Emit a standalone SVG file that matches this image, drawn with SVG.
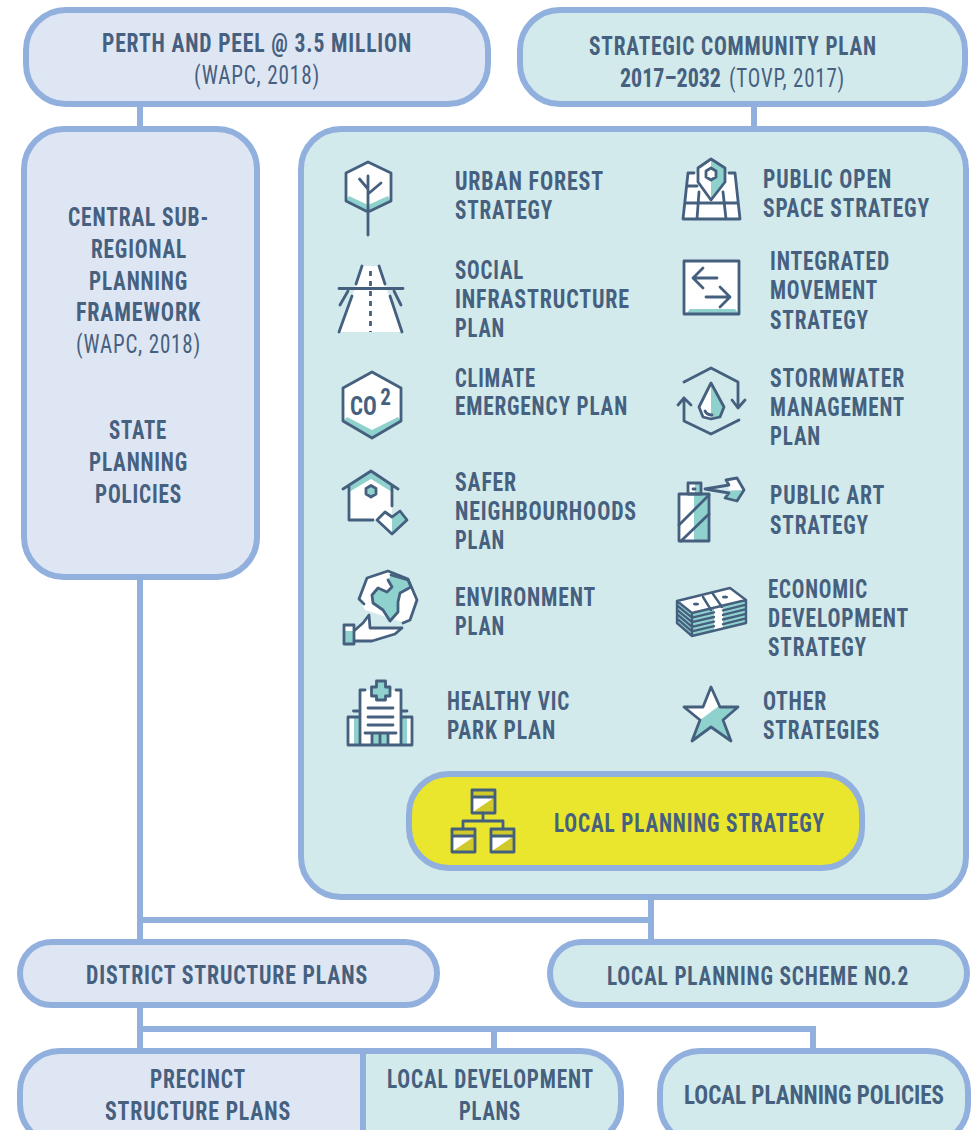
<svg xmlns="http://www.w3.org/2000/svg" xmlns:xlink="http://www.w3.org/1999/xlink" width="973" height="1130" viewBox="0 0 973 1130">
<style>
.b{stroke:#92b0de;stroke-width:6}
.blue{fill:#dfe6f3}.teal{fill:#d2eaeb}
.c{fill:none;stroke:#92b0de;stroke-width:6}
text{font-family:"Liberation Sans Narrow","Roboto Condensed","Liberation Sans",sans-serif;fill:#46607f;font-size:26px;font-weight:700;letter-spacing:1px}
text.n{font-weight:400}
.i{fill:none;stroke:#45607f;stroke-width:2.8;stroke-linejoin:round;stroke-linecap:round}
.w{fill:#fff;stroke:none}.t{fill:#8fd2cd;stroke:none}.o{fill:#cfca2a;stroke:none}
</style>
<defs>
<g id="org"><rect class="w" width="23" height="23"/><path class="o" d="M0 0H23V7H0ZM1 22L23 7V23H1Z"/><path class="i" d="M0 0H23V23H0ZM0 7H23"/></g>
</defs>
<rect width="973" height="1130" fill="#fff"/>
<g id="connectors">
<path class="c" d="M140 104V129M754 104V129M140 577V942M140 920H651M651 897V942M140 1005V1051M140 1029H813V1051M494 1029V1051"/>
</g>
<g id="perth"><rect class="b blue" x="26" y="10" width="462" height="94" rx="40"/>
<text x="102" y="52" textLength="310" lengthAdjust="spacingAndGlyphs">PERTH AND PEEL @ 3.5 MILLION</text>
<text class="n" x="194" y="84" textLength="126" lengthAdjust="spacingAndGlyphs">(WAPC, 2018)</text></g>
<g id="community"><rect class="b teal" x="520" y="10" width="445" height="94" rx="40"/>
<text x="589" y="55" textLength="288" lengthAdjust="spacingAndGlyphs">STRATEGIC COMMUNITY PLAN</text>
<text x="620" y="87" style="letter-spacing:0" textLength="101" lengthAdjust="spacingAndGlyphs">2017–2032</text>
<text class="n" x="729" y="87" textLength="116" lengthAdjust="spacingAndGlyphs">(TOVP, 2017)</text></g>
<g id="central"><rect class="b blue" x="24" y="129" width="233" height="448" rx="40"/>
<text x="68" y="226" textLength="141" lengthAdjust="spacingAndGlyphs">CENTRAL SUB-</text>
<text x="91" y="258" textLength="96" lengthAdjust="spacingAndGlyphs">REGIONAL</text>
<text x="89" y="290" textLength="99" lengthAdjust="spacingAndGlyphs">PLANNING</text>
<text x="76" y="321" textLength="125" lengthAdjust="spacingAndGlyphs">FRAMEWORK</text>
<text class="n" x="76" y="353" textLength="125" lengthAdjust="spacingAndGlyphs">(WAPC, 2018)</text>
<text x="109" y="439" textLength="58" lengthAdjust="spacingAndGlyphs">STATE</text>
<text x="89" y="471" textLength="99" lengthAdjust="spacingAndGlyphs">PLANNING</text>
<text x="95" y="503" textLength="87" lengthAdjust="spacingAndGlyphs">POLICIES</text></g>
<g id="strategies-panel"><rect class="b teal" x="301" y="129" width="665" height="768" rx="40"/></g>
<g id="urban-forest">
<path class="w" d="M368 162L391 173V201L368 212L346 201V173Z"/><path class="t" d="M349 196L368 205L388 196L391 201L368 212L346 201Z"/>
<path class="i" d="M368 162L391 173V201L368 212L346 201V173ZM368 176V235M359.500 179L368 189M381 183L368 194"/>
<text x="455" y="190" textLength="149" lengthAdjust="spacingAndGlyphs">URBAN FOREST</text>
<text x="455" y="219" textLength="98" lengthAdjust="spacingAndGlyphs">STRATEGY</text></g>
<g id="social">
<path class="w" d="M363 266H378L402 332H339Z"/>
<path class="i" d="M362 266L356 284M379 266L385 284M339 288.500H403M348 291L340 305M352 296L339 332M394 291L401 305M390 296L402 332"/>
<path class="i" stroke-dasharray="5 5" style="stroke-linecap:butt" d="M370.500 271V332"/>
<text x="455" y="279" textLength="69" lengthAdjust="spacingAndGlyphs">SOCIAL</text>
<text x="455" y="308" textLength="175" lengthAdjust="spacingAndGlyphs">INFRASTRUCTURE</text>
<text x="455" y="337" textLength="50" lengthAdjust="spacingAndGlyphs">PLAN</text></g>
<g id="climate">
<path class="w" d="M372 372L401 388V421L372 438L343 421V388Z"/><path class="t" d="M347 417L372 430L398 417L401 421L372 438L343 421Z"/>
<path class="i" d="M372 372L401 388V421L372 438L343 421V388Z"/>
<text x="350" y="415" style="letter-spacing:0" textLength="41" lengthAdjust="spacingAndGlyphs">CO<tspan dx="4" dy="-10" style="font-size:24px">2</tspan></text>
<text x="455" y="387" textLength="81" lengthAdjust="spacingAndGlyphs">CLIMATE</text>
<text x="455" y="415" textLength="173" lengthAdjust="spacingAndGlyphs">EMERGENCY PLAN</text></g>
<g id="safer">
<path class="w" d="M349 485L371 471L392 485V520H349Z"/><path class="t" d="M349 485L371 471L392 485V492L371 479L349 492Z"/>
<path class="i" d="M343 489L371 471L398 489M349 485V520H373M392 485V506"/>
<path class="t" d="M371 485.500L376 488.500V494L371 497L366 494V488.500Z"/><path class="i" d="M371 485.500L376 488.500V494L371 497L366 494V488.500Z"/>
<path class="w" d="M377 520L385 512L392 517V534Z"/><path class="t" d="M392 517L400 511L407 520L392 534Z"/>
<path class="i" d="M377 520L385 512L392 517L400 511L407 520L392 534Z"/>
<text x="455" y="491" textLength="62" lengthAdjust="spacingAndGlyphs">SAFER</text>
<text x="455" y="520" textLength="182" lengthAdjust="spacingAndGlyphs">NEIGHBOURHOODS</text>
<text x="455" y="549" textLength="50" lengthAdjust="spacingAndGlyphs">PLAN</text></g>
<g id="environment">
<path class="w" d="M388 571L408 579L417 600L410 620L402 622L365 610L359 599L367 578Z"/>
<path class="t" d="M391 575L408 580L411 587L400 593L398 602L398 612L390 621L383 610L373 603L372 595L378 588L387 592L392 587L388 580Z"/>
<path class="i" d="M391 575L408 580L411 587L400 593L398 602L398 612L390 621L383 610L373 603L372 595L378 588L387 592L392 587L388 580"/>
<path class="i" d="M364 604L359 599L367 578L388 571L408 579L417 600L410 620L403 623"/>
<path class="w" d="M355 630L363 623L369 615L370 628H402L395 634L372 641H355Z"/>
<path class="i" d="M355 630L363 623L369 615L370 628H402L395 634L372 641H355"/>
<rect class="w" x="344" y="625" width="10" height="6"/><rect class="t" x="344" y="631" width="10" height="13"/>
<rect class="i" x="344" y="625" width="10" height="19"/>
<text x="455" y="606" textLength="141" lengthAdjust="spacingAndGlyphs">ENVIRONMENT</text>
<text x="455" y="635" textLength="50" lengthAdjust="spacingAndGlyphs">PLAN</text></g>
<g id="healthy">
<rect class="w" x="360" y="690" width="41" height="55"/>
<rect class="w" x="348" y="717" width="12" height="28"/><rect class="w" x="401" y="717" width="11" height="28"/>
<rect class="t" x="354" y="717" width="6" height="28"/><rect class="t" x="401" y="717" width="6" height="28"/>
<rect class="t" x="372" y="733" width="16" height="12"/>
<path class="i" d="M365 690H360V745M396 690H401V745M348 717H360M401 717H412V745H348V717M353.500 711H360M401 711H407M368 708H393M368 717H393M368 725H393M365 733H396M372 733V745M380 733V745M388 733V745"/>
<path class="t" d="M376.500 681H385.500V687H390V696H385.500V700H376.500V696H371.500V687H376.500Z"/>
<path class="i" d="M376.500 681H385.500V687H390V696H385.500V700H376.500V696H371.500V687H376.500Z"/>
<text x="447" y="710" textLength="123" lengthAdjust="spacingAndGlyphs">HEALTHY VIC</text>
<text x="447" y="739" textLength="109" lengthAdjust="spacingAndGlyphs">PARK PLAN</text></g>
<g id="open-space">
<path class="w" d="M688 173H735L740 219H683Z"/>
<path class="i" d="M694 173H688L683 219H740L735 173H729M687 186H697M685 203H738M699 192L697 219M723 192L726 219"/>
<path class="w" d="M711 159L698 168V182L711 200Z"/><path class="t" d="M711 159L725 168V182L711 200Z"/>
<path class="i" d="M711 159L725 168V182L711 200L698 182V168Z"/>
<path class="w" d="M711 168L716 171V177L711 180L706 177V171Z"/><path class="i" d="M711 168L716 171V177L711 180L706 177V171Z"/>
<text x="763" y="188" textLength="129" lengthAdjust="spacingAndGlyphs">PUBLIC OPEN</text>
<text x="763" y="217" textLength="167" lengthAdjust="spacingAndGlyphs">SPACE STRATEGY</text></g>
<g id="movement">
<rect class="w" x="684" y="261" width="55" height="53"/><path class="t" d="M686 314L690 309H735L739 314Z"/>
<rect class="i" x="684" y="261" width="55" height="53"/>
<path class="i" d="M717 278H693M703 268L693 278L703 288M706 297H730M720 287L730 297L720 307"/>
<text x="770" y="270" textLength="120" lengthAdjust="spacingAndGlyphs">INTEGRATED</text>
<text x="770" y="299" textLength="108" lengthAdjust="spacingAndGlyphs">MOVEMENT</text>
<text x="770" y="329" textLength="99" lengthAdjust="spacingAndGlyphs">STRATEGY</text></g>
<g id="stormwater">
<path class="i" d="M684 382L711 368L738 382V408M732 400L738 408L745 400M739 420L711 434L684 421V398M678 405L684 398L691 405"/>
<path class="w" d="M711 383L699 407L703 417L711 419Z"/><path class="t" d="M711 383L724 407L720 417L711 419Z"/>
<path class="i" d="M711 383L724 407L720 417L711 419L703 417L699 407Z"/><path class="i" d="M705 411Q707 415 712 415"/>
<text x="770" y="387" textLength="135" lengthAdjust="spacingAndGlyphs">STORMWATER</text>
<text x="770" y="416" textLength="135" lengthAdjust="spacingAndGlyphs">MANAGEMENT</text>
<text x="770" y="445" textLength="51" lengthAdjust="spacingAndGlyphs">PLAN</text></g>
<g id="public-art">
<rect class="w" x="679" y="494" width="15" height="47"/><rect class="t" x="694" y="494" width="15" height="47"/>
<rect class="w" x="688" y="483" width="7" height="11"/><rect class="t" x="695" y="483" width="6" height="11"/>
<rect class="i" x="688" y="483" width="13" height="11"/><rect class="i" x="679" y="494" width="30" height="47"/>
<path class="i" d="M679 525L709 495M681 541L709 514M693 489H695"/>
<path class="w" d="M725 480L737 478L744 490H729L728 485Z"/><path class="t" d="M744 490L737 501L727 498L729 491Z"/>
<path class="i" d="M705 489L729 485L726 480L737 478L744 490L737 501L725 498L729 493Z"/>
<text x="770" y="504" textLength="115" lengthAdjust="spacingAndGlyphs">PUBLIC ART</text>
<text x="770" y="534" textLength="99" lengthAdjust="spacingAndGlyphs">STRATEGY</text></g>
<g id="economic">
<path class="t" d="M677 601L692 613L746 600V623L692 636L677 623Z"/>
<path class="w" d="M677 601L730 588L746 600L692 613Z"/>
<path class="w" d="M714 608L723 606V628L714 630Z"/>
<path class="i" style="stroke-width:2.4" d="M677 601L730 588L746 600L692 613ZM677 601V623L692 636L746 623V600M692 613V636M703 597L711 610M713 594L722 607M677 605.400L692 617.600L714 612.400M723 610.300L746 604.600M677 609.800L692 622.200L714 617M723 614.900L746 609.200M677 614.200L692 626.800L714 621.600M723 619.500L746 613.800M677 618.600L692 631.400L714 626.200M723 624.100L746 618.400"/>
<ellipse cx="696" cy="604" rx="3" ry="1.500" fill="#45607f"/><ellipse cx="725" cy="597" rx="3" ry="1.500" fill="#45607f"/>
<text x="768" y="598" textLength="100" lengthAdjust="spacingAndGlyphs">ECONOMIC</text>
<text x="768" y="627" textLength="141" lengthAdjust="spacingAndGlyphs">DEVELOPMENT</text>
<text x="768" y="656" textLength="99" lengthAdjust="spacingAndGlyphs">STRATEGY</text></g>
<g id="other">
<path class="t" d="M711 687L720 707H738L723 720L731 741L711 727L692 741L700 720L684 707H703Z"/>
<path class="w" d="M711 687L720 707L723 703L700 720L684 707H703Z"/>
<path class="i" d="M711 687L720 707H738L723 720L731 741L711 727L692 741L700 720L684 707H703Z"/>
<text x="763" y="710" textLength="64" lengthAdjust="spacingAndGlyphs">OTHER</text>
<text x="763" y="739" textLength="117" lengthAdjust="spacingAndGlyphs">STRATEGIES</text></g>
<g id="local-strategy"><rect class="b" fill="#e9e62d" x="409" y="774" width="453" height="94" rx="40"/>
<use xlink:href="#org" href="#org" x="472" y="790"/><use xlink:href="#org" href="#org" x="452" y="829"/><use xlink:href="#org" href="#org" x="491" y="829"/>
<path class="i" d="M483 813V821M463 829V821H503V829"/>
<text x="554" y="832" textLength="271" lengthAdjust="spacingAndGlyphs">LOCAL PLANNING STRATEGY</text></g>
<g id="district"><rect class="b blue" x="20" y="942" width="417" height="63" rx="31.500"/>
<text x="86" y="984" textLength="282" lengthAdjust="spacingAndGlyphs">DISTRICT STRUCTURE PLANS</text></g>
<g id="scheme"><rect class="b teal" x="550" y="942" width="417" height="63" rx="31.500"/>
<text x="607" y="985" textLength="302" lengthAdjust="spacingAndGlyphs">LOCAL PLANNING SCHEME NO.2</text></g>
<g id="precinct-development">
<path class="blue" d="M31.400 1132A40 40 0 0 1 20 1104V1091A40 40 0 0 1 60 1051H363V1132Z"/>
<path class="teal" d="M363 1051H581A40 40 0 0 1 621 1091V1104A40 40 0 0 1 609.600 1132H363Z"/>
<path class="c" d="M31.400 1132A40 40 0 0 1 20 1104V1091A40 40 0 0 1 60 1051H581A40 40 0 0 1 621 1091V1104A40 40 0 0 1 609.600 1132M363 1051V1132"/>
<text x="150" y="1088" textLength="96" lengthAdjust="spacingAndGlyphs">PRECINCT</text>
<text x="105" y="1120" textLength="186" lengthAdjust="spacingAndGlyphs">STRUCTURE PLANS</text>
<text x="387" y="1088" textLength="207" lengthAdjust="spacingAndGlyphs">LOCAL DEVELOPMENT</text>
<text x="459" y="1120" textLength="62" lengthAdjust="spacingAndGlyphs">PLANS</text></g>
<g id="policies">
<path class="teal" d="M671.400 1132A40 40 0 0 1 660 1104V1091A40 40 0 0 1 700 1051H928A40 40 0 0 1 968 1091V1104A40 40 0 0 1 956.600 1132Z"/>
<path class="c" d="M671.400 1132A40 40 0 0 1 660 1104V1091A40 40 0 0 1 700 1051H928A40 40 0 0 1 968 1091V1104A40 40 0 0 1 956.600 1132"/>
<text x="684" y="1104" style="letter-spacing:0;font-size:25px" textLength="260" lengthAdjust="spacingAndGlyphs">LOCAL PLANNING POLICIES</text></g>
</svg>
